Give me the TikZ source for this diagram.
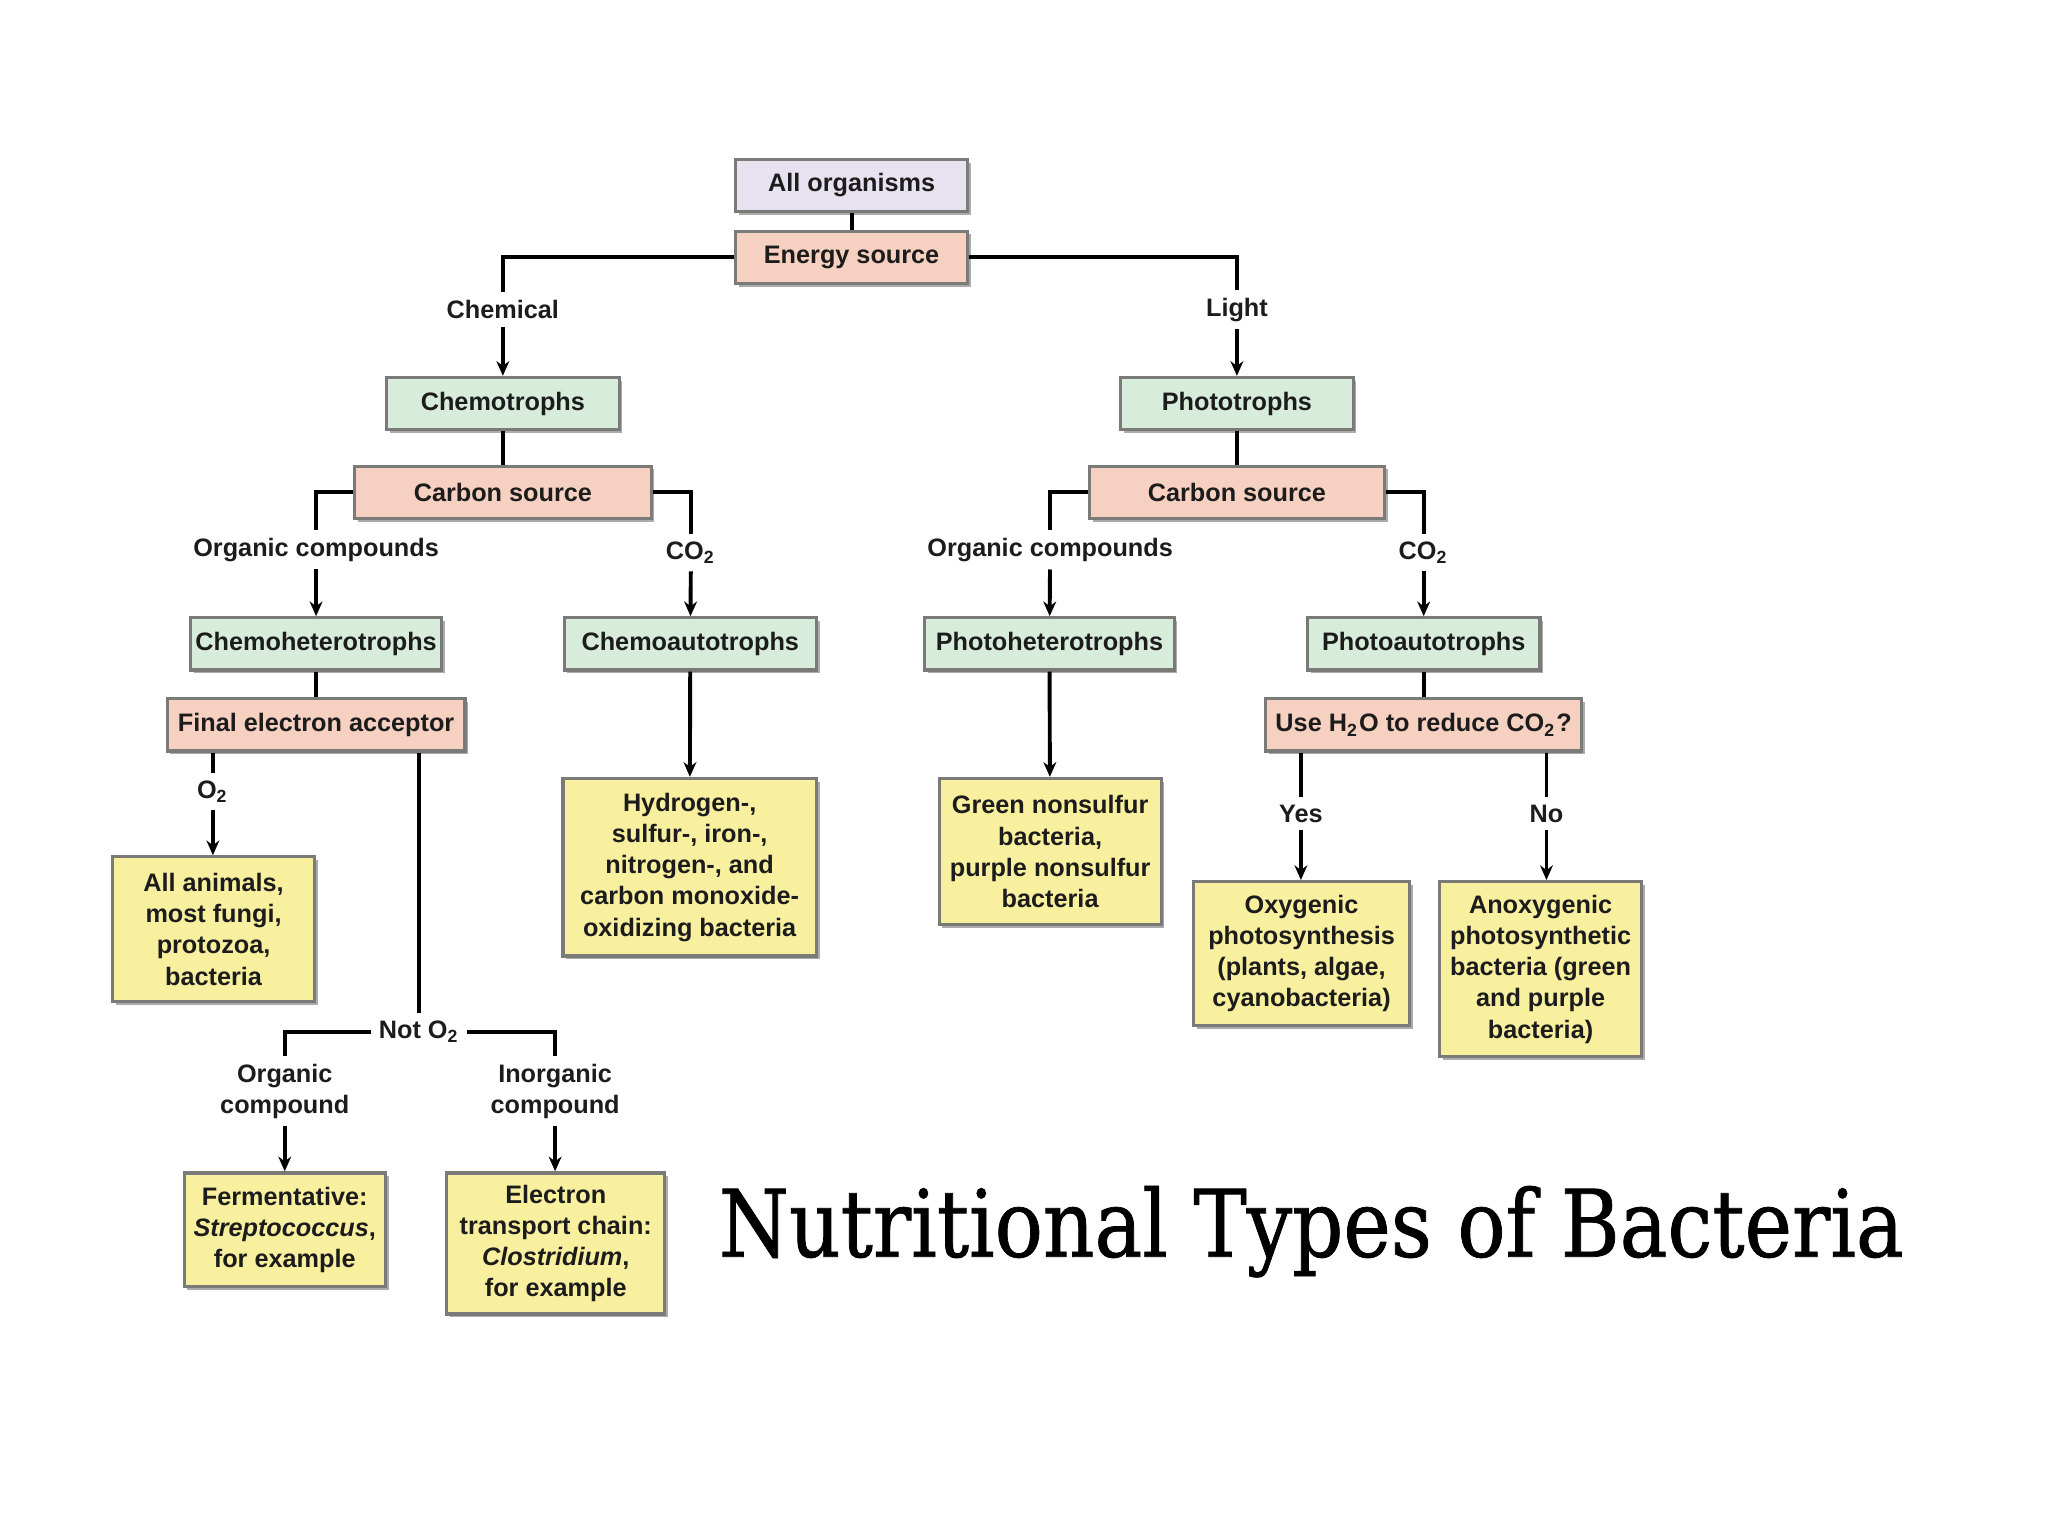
\documentclass[tikz,border=0pt]{standalone}
\usepackage{fontspec}
\setmainfont{Liberation Sans}
\newfontfamily\titlefont[FakeStretch=0.86,FakeBold=0.8]{DejaVu Serif}
\usetikzlibrary{positioning,arrows.meta,shadows}
\definecolor{inkBlack}{HTML}{1C1C1C}
\definecolor{frameGray}{HTML}{7A7A78}
\definecolor{rootLilac}{HTML}{E6E2F0}
\definecolor{askSalmon}{HTML}{F6D0C0}
\definecolor{typeMint}{HTML}{D8ECDC}
\definecolor{exampleYellow}{HTML}{F8F09E}
\tikzset{
    boxbase/.style={draw=frameGray,line width=0.7pt,text=inkBlack,inner sep=1pt,
        align=center,font=\fontsize{5.5}{6.8}\selectfont\bfseries,
        drop shadow={shadow xshift=0.7pt,shadow yshift=-0.7pt,fill=black!55,opacity=0.6}},
    rootbox/.style={boxbase,fill=rootLilac,minimum width=1.78cm,minimum height=0.40cm},
    askbox/.style={boxbase,fill=askSalmon,minimum height=0.40cm},
    typebox/.style={boxbase,fill=typeMint,minimum height=0.40cm},
    examplebox/.style={boxbase,fill=exampleYellow},
    branch/.style={text=inkBlack,inner sep=1.5pt,align=center,
        font=\fontsize{5.5}{6.8}\selectfont\bfseries},
    link/.style={draw=black,line width=0.85pt},
    arrow/.style={link,-{Stealth[length=3.2pt,width=2.8pt]}}
}
\begin{document}
\begin{tikzpicture}
    \fill[white] (0,0) rectangle (15.68,-11.76);
    \useasboundingbox (0,0) rectangle (15.68,-11.76);

    \node[rootbox] (all) at (6.52,-1.42) {All organisms};
    \node[askbox,minimum width=1.78cm] (energy) at (6.52,-1.97) {Energy source};
    \draw[link] (all) -- (energy);

    \node[branch] (chemical) at (3.85,-2.37) {Chemical};
    \node[branch] (light) at (9.47,-2.37) {Light};
    \node[typebox,minimum width=1.78cm] (chemo) at (3.85,-3.09) {Chemotrophs};
    \node[typebox,minimum width=1.78cm] (photo) at (9.47,-3.09) {Phototrophs};
    \draw[link] (energy.west) -| (chemical.north);
    \draw[link] (energy.east) -| (light.north);
    \draw[arrow] (chemical) -- (chemo);
    \draw[arrow] (light) -- (photo);

    \node[askbox,minimum width=2.27cm] (csrcL) at (3.85,-3.77) {Carbon source};
    \node[askbox,minimum width=2.26cm] (csrcR) at (9.47,-3.77) {Carbon source};
    \draw[link] (chemo) -- (csrcL);
    \draw[link] (photo) -- (csrcR);

    \node[branch] (orgL) at (2.42,-4.21) {Organic compounds};
    \node[branch] (co2L) at (5.29,-4.23) {CO\textsubscript{2}};
    \node[branch] (orgR) at (8.04,-4.21) {Organic compounds};
    \node[branch] (co2R) at (10.90,-4.23) {CO\textsubscript{2}};
    \draw[link] (csrcL.west) -| (orgL.north);
    \draw[link] (csrcL.east) -| (co2L.north);
    \draw[link] (csrcR.west) -| (orgR.north);
    \draw[link] (csrcR.east) -| (co2R.north);

    \node[typebox,minimum width=1.91cm] (chemohet) at (2.42,-4.93) {Chemoheterotrophs};
    \node[typebox,minimum width=1.93cm] (chemoaut) at (5.285,-4.93) {Chemoautotrophs};
    \node[typebox,minimum width=1.91cm] (photohet) at (8.035,-4.93) {Photoheterotrophs};
    \node[typebox,minimum width=1.78cm] (photoaut) at (10.90,-4.93) {Photoautotrophs};
    \draw[arrow] (orgL) -- (chemohet);
    \draw[arrow] (co2L) -- (chemoaut);
    \draw[arrow] (orgR) -- (photohet);
    \draw[arrow] (co2R) -- (photoaut);

    \node[askbox,minimum width=2.28cm] (fea) at (2.42,-5.55) {Final electron acceptor};
    \node[askbox,minimum width=2.42cm] (useh2o) at (10.90,-5.55)
        {Use H\textsubscript{2}O to reduce CO\textsubscript{2}?};
    \draw[link] (chemohet) -- (fea);
    \draw[link] (photoaut) -- (useh2o);

    \node[branch] (o2) at (1.63,-6.06) {O\textsubscript{2}};
    \node[examplebox,minimum width=1.55cm,minimum height=1.11cm] (animals) at (1.635,-7.115)
        {All animals,\\most fungi,\\protozoa,\\bacteria};
    \draw[link] (o2.north |- fea.south) -- (o2.north);
    \draw[arrow] (o2) -- (o2.south |- animals.north);

    \node[branch] (noto2) at (3.21,-7.90) {Not O\textsubscript{2}};
    \draw[link] (noto2.north |- fea.south) -- (noto2.north);
    \node[branch] (orgc) at (2.18,-8.355) {Organic\\compound};
    \node[branch] (inorgc) at (4.25,-8.355) {Inorganic\\compound};
    \draw[link] (noto2.west) -| (orgc.north);
    \draw[link] (noto2.east) -| (inorgc.north);

    \node[examplebox,minimum width=1.54cm,minimum height=0.87cm] (ferm) at (2.18,-9.415)
        {Fermentative:\\\textit{Streptococcus},\\for example};
    \node[examplebox,minimum width=1.67cm,minimum height=1.08cm] (etc) at (4.255,-9.52)
        {Electron\\transport chain:\\\textit{Clostridium},\\for example};
    \draw[arrow] (orgc) -- (orgc.south |- ferm.north);
    \draw[arrow] (inorgc) -- (inorgc.south |- etc.north);

    \node[examplebox,minimum width=1.94cm,minimum height=1.36cm] (hydrogen) at (5.28,-6.64)
        {Hydrogen-,\\sulfur-, iron-,\\nitrogen-, and\\carbon monoxide-\\oxidizing bacteria};
    \draw[arrow] (chemoaut) -- (hydrogen);

    \node[examplebox,minimum width=1.70cm,minimum height=1.12cm] (greenns) at (8.04,-6.52)
        {Green nonsulfur\\bacteria,\\purple nonsulfur\\bacteria};
    \draw[arrow] (photohet) -- (greenns);

    \node[branch] (yes) at (9.96,-6.23) {Yes};
    \node[branch] (no) at (11.84,-6.23) {No};
    \node[examplebox,minimum width=1.65cm,minimum height=1.10cm] (oxy) at (9.965,-7.30)
        {Oxygenic\\photosynthesis\\(plants, algae,\\cyanobacteria)};
    \node[examplebox,minimum width=1.55cm,minimum height=1.34cm] (anoxy) at (11.795,-7.42)
        {Anoxygenic\\photosynthetic\\bacteria (green\\and purple\\bacteria)};
    \draw[link] (yes.north |- useh2o.south) -- (yes.north);
    \draw[link] (no.north |- useh2o.south) -- (no.north);
    \draw[arrow] (yes) -- (yes.south |- oxy.north);
    \draw[arrow] (no) -- (no.south |- anoxy.north);

    \node[text=black,font=\titlefont\fontsize{20.3}{24}\selectfont] (title) at (10.04,-9.43)
        {Nutritional Types of Bacteria};
\end{tikzpicture}
\end{document}
